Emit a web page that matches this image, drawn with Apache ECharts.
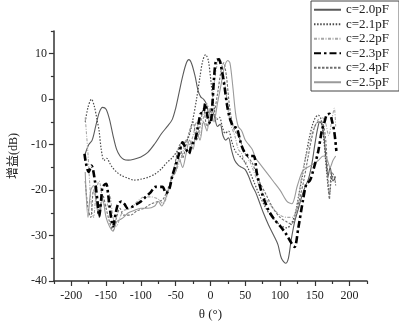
<!DOCTYPE html>
<html><head><meta charset="utf-8">
<script src="https://cdn.jsdelivr.net/npm/echarts@6/dist/echarts.min.js"></script>
<style>html,body{margin:0;padding:0;background:#fff}#c{width:399px;height:326px}</style>
</head><body><div id="c"></div>
<script>
// ---------- data ----------
const seriesNames = ['c=2.0pF','c=2.1pF','c=2.2pF','c=2.3pF','c=2.4pF','c=2.5pF'];
const xMajor = [-200,-150,-100,-50,0,50,100,150,200];
const xMinor = [-225,-175,-125,-75,-25,25,75,125,175,225];
const yMajor = [-40,-30,-20,-10,0,10];
const yMinor = [-35,-25,-15,-5,5,15];

const theta20 = [-180,-175,-170,-165,-160,-155,-150,-145,-140,-135,-130,-125,-118,-110,-100,-90,-80,-70,-62,-55,-50,-45,-40,-35,-31,-27,-22,-18,-14,-10,-6,-2,2,6,10,14,18,22,26,30,35,40,45,50,55,60,65,70,76,83,91,97,102,108,112,116,121,126,131,136,141,146,150,154,157,160,163,166,169,172,176,180];
const gain20  = [-12,-10,-9,-6,-3,-1.8,-2.2,-4.5,-8,-11,-12.5,-13.2,-13.4,-13.2,-12.7,-11.7,-9.8,-7.5,-6,-4.5,-2,1.5,5,7.8,8.7,7.8,5,2,0.5,0,-1,-3,-2.5,-4,-6,-5.5,-8,-9,-8.5,-11,-13.5,-14.5,-15,-15.5,-17,-19,-20.5,-22.5,-25,-27.5,-30,-32,-35,-36.1,-35,-31,-27,-24.3,-21.5,-19.3,-17.5,-14,-10,-6.5,-5,-5.5,-8,-13,-17,-15,-18,-17];

const theta21 = [-180,-176,-171,-167,-163,-160,-157,-153,-149,-145,-141,-135,-128,-120,-110,-100,-90,-80,-71,-63,-55,-48,-40,-32,-26,-20,-15,-11,-7,-3,1,5,9,13,17,21,26,31,36,42,48,55,62,70,78,86,95,103,110,116,122,127,132,137,142,147,151,155,159,163,167,171,175,180];
const gain21  = [-5,-1.8,0,-1.5,-4.5,-7,-11,-13.5,-13,-14,-15,-16,-16.8,-17.3,-17.8,-17.6,-17.2,-16.5,-15.4,-14,-12.9,-11.5,-10,-8.6,-5,0,5,8.5,9.8,8.5,3.5,-1.5,-4.5,-4,-6,-7.5,-7,-9.5,-11.5,-12.5,-13.5,-15.5,-18,-21,-23.5,-25.5,-27,-28,-28.3,-27.5,-25,-21,-17,-12.5,-8.5,-5.5,-4,-3.5,-4.5,-9,-16,-21,-17,-18];

const theta22 = [-180,-176,-172,-168,-164,-160,-155,-150,-145,-140,-135,-130,-125,-115,-105,-95,-85,-75,-68,-62,-57,-50,-45,-40,-35,-30,-25,-20,-15,-10,-5,0,5,10,13,17,22,26,30,35,40,45,50,55,60,70,80,90,100,110,118,125,130,135,140,145,150,155,160,165,170,175,178,180];
const gain22  = [-4,-12,-22,-26,-20,-18,-22,-24,-21,-26,-28,-26,-24.5,-24,-22.5,-21.5,-21.5,-22,-23,-21,-18,-16,-14,-12,-9,-10,-8,-5,-8,-4,-1,-3,3,8,9,7,2,-3,-6,-8,-11,-12,-14,-13.5,-15,-19,-22,-24,-25.5,-26,-26,-23,-18,-14,-11,-8,-6,-4.5,-4,-5,-8,-4,-2,-6];

const theta23 = [-181,-179,-175,-171,-166,-162,-160,-157,-155,-150,-147,-145,-140,-136,-133,-128,-124,-119,-113,-107,-100,-93,-86,-79,-69,-64,-59,-55,-50,-45,-40,-35,-31,-27,-22,-18,-14,-10,-7.6,-4,0,2.4,5,8,12,16.7,20,24,28,33,38,43,48,55,62,67,74,83,92,100,108,117,121,126,133,138,143,148,155,160,164,167,171,175,178,181];
const gain23  = [-12,-14,-16,-14.6,-18,-23,-25.8,-22,-19.3,-18.6,-21,-23.6,-28,-25,-23.2,-22.5,-23,-24,-23.7,-23.2,-22.5,-21.5,-20.5,-19.3,-19.3,-20.7,-19.7,-17,-14.5,-12,-9.5,-11,-12,-10,-9,-6,-3.2,-2.9,-1,-4,-5.4,-2,4.3,8.5,8.8,6,3,-1.4,-4.3,-6,-6.4,-9.3,-11.4,-12.5,-12.5,-16.5,-20.7,-24.3,-26.5,-27.9,-29.5,-31.8,-32.5,-28.6,-22.2,-18.6,-17.9,-15.5,-11.4,-7,-5,-3.5,-3.2,-5,-7.2,-11.4];

const theta24 = [-180,-176,-172,-168,-164,-160,-155,-150,-145,-140,-135,-130,-125,-115,-105,-95,-85,-75,-68,-62,-57,-52,-48,-44,-40,-35,-30,-25,-20,-15,-10,-5,0,5,10,15,19,23,27,31,35,40,45,50,55,60,65,70,80,90,100,110,116,122,128,134,140,145,150,155,160,165,168,171,174,178,180];
const gain24  = [-18,-24,-26,-20,-22,-25,-21,-24,-27,-29,-26,-24,-25.5,-25.5,-24.5,-24,-23,-22.5,-22,-20,-18,-15,-12,-10,-13,-10,-7,-5,-9,-6,-2,-6,-4,-3,1,6,8,5,-1,-5,-7,-8,-10,-12,-13,-14,-16,-18,-21,-24,-26,-27,-27.5,-26,-22,-18,-13,-9,-6,-5,-5,-8,-15,-22,-16,-17,-19];

const theta25 = [-180,-176,-172,-168,-164,-160,-155,-150,-145,-140,-135,-130,-125,-118,-110,-100,-90,-80,-75,-70,-65,-60,-55,-50,-45,-40,-35,-30,-25,-20,-15,-10,-5,0,5,10,15,20,25,28,32,36,40,45,50,55,60,65,70,80,90,100,110,117,125,133,145,155,162,167,172,176,180];
const gain25  = [-16,-26,-20,-19,-23,-26,-22,-26,-28,-29,-27,-26.5,-26,-25,-24.5,-24,-24,-23.5,-22.5,-23.5,-22,-20,-17,-16,-13,-15,-12,-9,-11,-7,-9,-5,-7,-2,-5,-1,3,7,8.5,8,3,-3,-6,-7,-9,-10,-11,-13,-14,-16,-18,-20,-22.5,-23,-19,-15.7,-14.5,-13.5,-12.5,-13,-15,-13.5,-12.5];

// ---------- chart ----------
const FONT = '"Liberation Serif","Times New Roman","Noto Sans CJK SC",serif';
const pairs = (t, v) => t.map((x, i) => [x, v[i]]);
const thetas = [theta20, theta21, theta22, theta23, theta24, theta25];
const gains  = [gain20, gain21, gain22, gain23, gain24, gain25];
const styles = [
  {color:'#5a5a5a', width:1.1, type:'solid'},
  {color:'#4a4a4a', width:1.2, type:[1.5,1.6]},
  {color:'#a8a8a8', width:1.1, type:[3,1.5,1,1.5]},
  {color:'#000000', width:2.6, type:[7,3,2.5,3]},
  {color:'#6e6e6e', width:1.1, type:[2.5,1.5]},
  {color:'#9a9a9a', width:1.1, type:'solid'}
];

const chart = echarts.init(document.getElementById('c'), null, {renderer:'canvas'});
const axisCol = '#333';
chart.setOption({
  animation:false,
  backgroundColor:'#fff',
  grid:{left:49, right:32, top:31, bottom:39},
  legend:{
    orient:'vertical', left:311, top:1,
    padding:[2,10,2,2], itemGap:1, itemWidth:27, itemHeight:12,
    borderColor:'#444', borderWidth:1,
    itemStyle:{opacity:0},
    textStyle:{fontFamily:FONT, fontSize:13, color:'#222', lineHeight:13.5},
    data:seriesNames
  },
  xAxis:[
    {type:'value', min:-225, max:225, position:'bottom',
     name:'θ (°)', nameLocation:'middle', nameGap:27,
     nameTextStyle:{fontFamily:FONT, fontSize:13, color:'#222'},
     axisLine:{onZero:false, lineStyle:{color:axisCol, width:1.5}},
     axisTick:{customValues:xMajor, length:5, lineStyle:{color:axisCol, width:1.2}},
     axisLabel:{customValues:xMajor, fontFamily:FONT, fontSize:12, color:'#222', margin:9},
     splitLine:{show:false}},
    {type:'value', min:-225, max:225, position:'bottom',
     axisLine:{show:false, onZero:false},
     axisTick:{customValues:xMinor, length:3, lineStyle:{color:axisCol, width:1.2}},
     axisLabel:{show:false}, splitLine:{show:false}}
  ],
  yAxis:[
    {type:'value', min:-40, max:15, position:'left',
     name:'增益(dB)', nameLocation:'middle', nameGap:33,
     nameTextStyle:{fontFamily:FONT, fontSize:12, color:'#222'},
     axisLine:{show:true, onZero:false, lineStyle:{color:axisCol, width:1.5}},
     axisTick:{show:true, customValues:yMajor, length:5, lineStyle:{color:axisCol, width:1.2}},
     axisLabel:{customValues:yMajor, fontFamily:FONT, fontSize:12, color:'#222', margin:7},
     splitLine:{show:false}},
    {type:'value', min:-40, max:15, position:'left',
     axisLine:{show:false, onZero:false},
     axisTick:{show:true, customValues:yMinor, length:3, lineStyle:{color:axisCol, width:1.2}},
     axisLabel:{show:false}, splitLine:{show:false}}
  ],
  series: seriesNames.map((n, i) => ({
    name:n, type:'line', xAxisIndex:0, yAxisIndex:0,
    data:pairs(thetas[i], gains[i]),
    symbol:'none', smooth:0.3, z: i === 3 ? 5 : 2,
    color:styles[i].color,
    lineStyle:{color:styles[i].color, width:styles[i].width, type:styles[i].type}
  }))
});
</script></body></html>
